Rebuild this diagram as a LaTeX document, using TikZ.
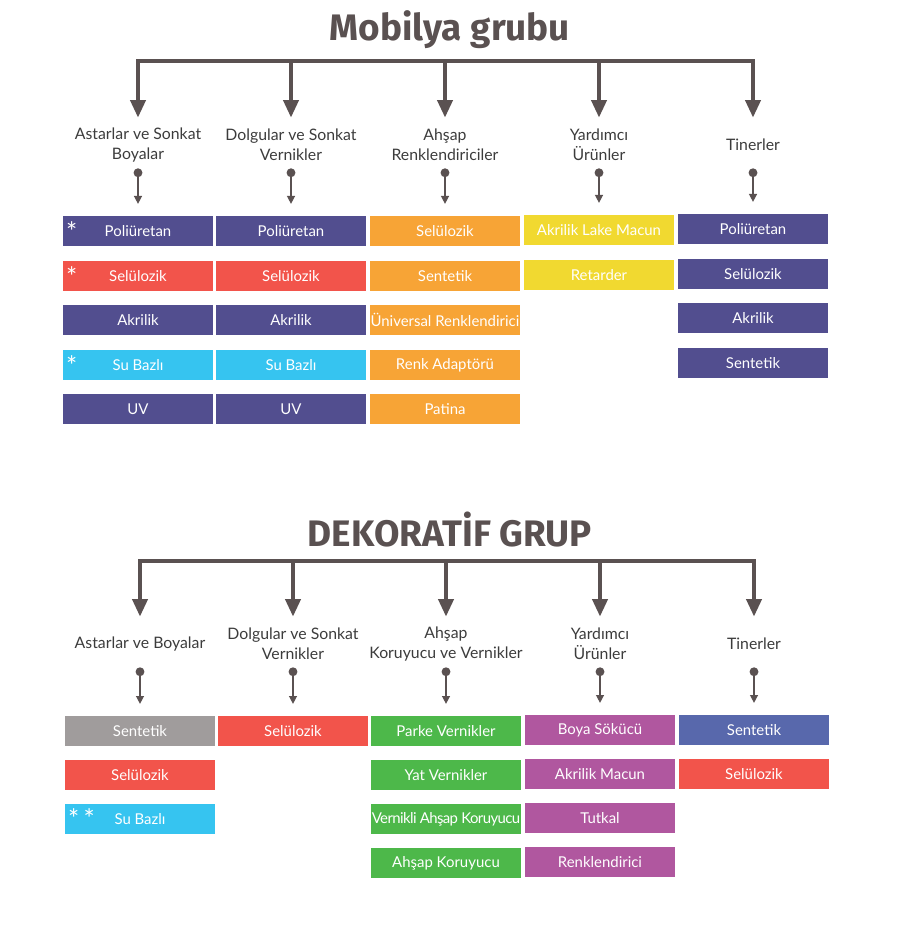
\documentclass[tikz,border=0pt]{standalone}
\usepackage{fontspec}
\setmainfont{Lato}
\newfontfamily\titlefont{Fira Sans}
\usetikzlibrary{arrows.meta}
\definecolor{arrowgray}{HTML}{5A5151}
\definecolor{labelgray}{HTML}{3C3C3C}
\definecolor{boxpurple}{HTML}{524E8F}
\definecolor{boxred}{HTML}{F2544B}
\definecolor{boxcyan}{HTML}{36C4F0}
\definecolor{boxorange}{HTML}{F7A436}
\definecolor{boxyellow}{HTML}{F1D930}
\definecolor{boxgray}{HTML}{A09C9C}
\definecolor{boxgreen}{HTML}{4DB84A}
\definecolor{boxmagenta}{HTML}{B0579F}
\definecolor{boxblue}{HTML}{5868AC}
\tikzset{
  group title/.style={
    font=\titlefont\bfseries\fontsize{21}{25}\selectfont,
    text=arrowgray,
    inner sep=0pt
  },
  category/.style={
    align=center,
    font=\fontsize{9}{11.3}\selectfont,
    text=labelgray,
    minimum height=0.92cm,
    inner sep=0pt
  },
  item box/.style={
    rectangle,
    minimum width=3cm,
    minimum height=0.59cm,
    inner sep=0pt,
    text=white,
    font=\fontsize{8.5}{10}\selectfont
  },
  tight text/.style={
    font=\fontsize{8.5}{10}\selectfont\addfontfeature{LetterSpace=-4}
  },
  bus line/.style={
    line width=2.3pt,
    color=arrowgray,
    line cap=rect
  },
  drop arrow/.style={
    -{Triangle[length=10pt, width=8.5pt]},
    line width=2.3pt,
    color=arrowgray,
    shorten >=0.08cm
  },
  link arrow/.style={
    {Circle[length=5pt]}-{Triangle[length=4.5pt, width=4.5pt]},
    line width=0.8pt,
    color=arrowgray,
    shorten >=0.24cm
  },
  star mark/.style={
    text=white,
    inner sep=0pt,
    font=\fontsize{15}{15}\selectfont
  }
}
\begin{document}
\begin{tikzpicture}[x=0.02cm, y=-0.02cm]

  \useasboundingbox (0,0) rectangle (900,939);

  %% ---- Mobilya grubu ----
  \node[group title] (mtitle) at (450,30) {Mobilya grubu};
  \coordinate (mbar) at (450,61);

  \node[category] (mcat1) at (138,145) {Astarlar ve Sonkat\\Boyalar};
  \node[category] (mcat2) at (291,145) {Dolgular ve Sonkat\\Vernikler};
  \node[category] (mcat3) at (445,145) {Ahşap\\Renklendiriciler};
  \node[category] (mcat4) at (599,145) {Yardımcı\\Ürünler};
  \node[category] (mcat5) at (753,145) {Tinerler};

  % yatay çizgi ve büyük oklar
  \draw[bus line] (mcat1 |- mbar) -- (mcat5 |- mbar);
  \draw[drop arrow] (mcat1 |- mbar) -- (mcat1);
  \draw[drop arrow] (mcat2 |- mbar) -- (mcat2);
  \draw[drop arrow] (mcat3 |- mbar) -- (mcat3);
  \draw[drop arrow] (mcat4 |- mbar) -- (mcat4);
  \draw[drop arrow] (mcat5 |- mbar) -- (mcat5);

  % sütun 1
  \node[item box, fill=boxpurple] (m11) at (138,231) {Poliüretan};
  \node[item box, fill=boxred]    (m12) at (138,276) {Selülozik};
  \node[item box, fill=boxpurple] (m13) at (138,320) {Akrilik};
  \node[item box, fill=boxcyan]   (m14) at (138,365) {Su Bazlı};
  \node[item box, fill=boxpurple] (m15) at (138,409) {UV};
  \node[star mark, anchor=north west] (mstar1) at ([xshift=0.06cm, yshift=-0.1cm]m11.north west) {*};
  \node[star mark, anchor=north west] (mstar2) at ([xshift=0.06cm, yshift=-0.1cm]m12.north west) {*};
  \node[star mark, anchor=north west] (mstar4) at ([xshift=0.06cm, yshift=-0.1cm]m14.north west) {*};

  % sütun 2
  \node[item box, fill=boxpurple] (m21) at (291,231) {Poliüretan};
  \node[item box, fill=boxred]    (m22) at (291,276) {Selülozik};
  \node[item box, fill=boxpurple] (m23) at (291,320) {Akrilik};
  \node[item box, fill=boxcyan]   (m24) at (291,365) {Su Bazlı};
  \node[item box, fill=boxpurple] (m25) at (291,409) {UV};

  % sütun 3
  \node[item box, fill=boxorange] (m31) at (445,231) {Selülozik};
  \node[item box, fill=boxorange] (m32) at (445,276) {Sentetik};
  \node[item box, fill=boxorange] (m33) at (445,320) {Üniversal Renklendirici};
  \node[item box, fill=boxorange] (m34) at (445,365) {Renk Adaptörü};
  \node[item box, fill=boxorange] (m35) at (445,409) {Patina};

  % sütun 4
  \node[item box, fill=boxyellow] (m41) at (599,230) {Akrilik Lake Macun};
  \node[item box, fill=boxyellow] (m42) at (599,275) {Retarder};

  % sütun 5
  \node[item box, fill=boxpurple] (m51) at (753,229) {Poliüretan};
  \node[item box, fill=boxpurple] (m52) at (753,274) {Selülozik};
  \node[item box, fill=boxpurple] (m53) at (753,318) {Akrilik};
  \node[item box, fill=boxpurple] (m54) at (753,363) {Sentetik};

  % küçük oklar
  \draw[link arrow] (mcat1.south) -- (m11);
  \draw[link arrow] (mcat2.south) -- (m21);
  \draw[link arrow] (mcat3.south) -- (m31);
  \draw[link arrow] (mcat4.south) -- (m41);
  \draw[link arrow] (mcat5.south) -- (m51);

  %% ---- DEKORATİF GRUP ----
  \node[group title] (dtitle) at (450,530) {DEKORATİF GRUP};
  \coordinate (dbar) at (450,561);

  \node[category] (dcat1) at (140,644) {Astarlar ve Boyalar};
  \node[category] (dcat2) at (293,644) {Dolgular ve Sonkat\\Vernikler};
  \node[category] (dcat3) at (446,644) {Ahşap\\Koruyucu ve Vernikler};
  \node[category] (dcat4) at (600,644) {Yardımcı\\Ürünler};
  \node[category] (dcat5) at (754,644) {Tinerler};

  % yatay çizgi ve büyük oklar
  \draw[bus line] (dcat1 |- dbar) -- (dcat5 |- dbar);
  \draw[drop arrow] (dcat1 |- dbar) -- (dcat1);
  \draw[drop arrow] (dcat2 |- dbar) -- (dcat2);
  \draw[drop arrow] (dcat3 |- dbar) -- (dcat3);
  \draw[drop arrow] (dcat4 |- dbar) -- (dcat4);
  \draw[drop arrow] (dcat5 |- dbar) -- (dcat5);

  % sütun 1
  \node[item box, fill=boxgray]   (d11) at (140,731) {Sentetik};
  \node[item box, fill=boxred]    (d12) at (140,775) {Selülozik};
  \node[item box, fill=boxcyan]   (d13) at (140,819) {Su Bazlı};
  \node[star mark, anchor=north west] (dstar3) at ([xshift=0.06cm, yshift=-0.08cm]d13.north west) {*\,*};

  % sütun 2
  \node[item box, fill=boxred]    (d21) at (293,731) {Selülozik};

  % sütun 3
  \node[item box, fill=boxgreen]  (d31) at (446,731) {Parke Vernikler};
  \node[item box, fill=boxgreen]  (d32) at (446,775) {Yat Vernikler};
  \node[item box, fill=boxgreen, tight text] (d33) at (446,819) {Vernikli Ahşap Koruyucu};
  \node[item box, fill=boxgreen]  (d34) at (446,863) {Ahşap Koruyucu};

  % sütun 4
  \node[item box, fill=boxmagenta] (d41) at (600,730) {Boya Sökücü};
  \node[item box, fill=boxmagenta] (d42) at (600,774) {Akrilik Macun};
  \node[item box, fill=boxmagenta] (d43) at (600,818) {Tutkal};
  \node[item box, fill=boxmagenta] (d44) at (600,862) {Renklendirici};

  % sütun 5
  \node[item box, fill=boxblue]   (d51) at (754,730) {Sentetik};
  \node[item box, fill=boxred]    (d52) at (754,774) {Selülozik};

  % küçük oklar
  \draw[link arrow] (dcat1.south) -- (d11);
  \draw[link arrow] (dcat2.south) -- (d21);
  \draw[link arrow] (dcat3.south) -- (d31);
  \draw[link arrow] (dcat4.south) -- (d41);
  \draw[link arrow] (dcat5.south) -- (d51);

\end{tikzpicture}
\end{document}
